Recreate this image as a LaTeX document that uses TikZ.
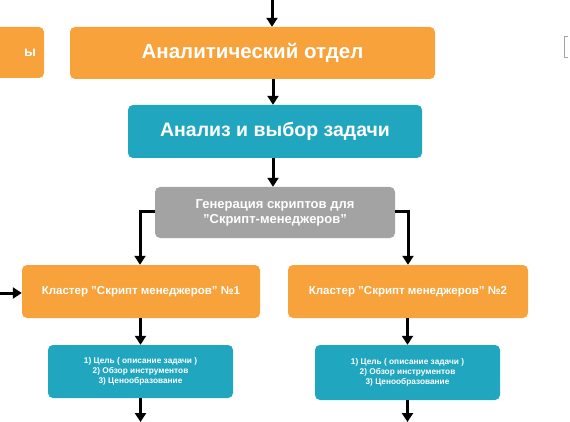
\documentclass[tikz,border=0pt]{standalone}
\usepackage{fontspec}
\setmainfont{Liberation Sans}
\usetikzlibrary{arrows.meta}
\definecolor{orng}{HTML}{F7A23A}
\definecolor{teal2}{HTML}{20A6BE}
\definecolor{gry}{HTML}{A3A3A3}
\tikzset{
  box/.style={rounded corners=5pt, text=white, font=\bfseries, align=center, inner sep=0pt},
  obox/.style={box, fill=orng},
  tbox/.style={box, fill=teal2},
  gbox/.style={box, fill=gry},
  arr/.style={line width=3pt, -{Triangle[width=11pt,length=9pt]}},
}
\begin{document}
\begin{tikzpicture}[x=1pt,y=-1pt]
\useasboundingbox (0,0) rectangle (570,422);
\fill[white] (0,0) rectangle (570,422);
% left partial box
\node[obox, minimum width=80pt, minimum height=51pt, font=\bfseries\fontsize{14}{16}\selectfont] (left) at (4,52.5) {\hspace*{52pt}ы};
% main boxes
\node[obox, minimum width=365pt, minimum height=52pt, font=\bfseries\fontsize{20.5}{24}\selectfont] (anal) at (252.5,53) {Аналитический отдел};
\node[tbox, minimum width=294pt, minimum height=53pt, font=\bfseries\fontsize{19.5}{23}\selectfont] (task) at (275,131.5) {Анализ и выбор задачи};
\node[gbox, minimum width=240pt, minimum height=51pt, font=\bfseries\fontsize{13}{15}\selectfont] (gen) at (275,212.5) {Генерация скриптов для\\"Скрипт-менеджеров"};
\node[obox, minimum width=238pt, minimum height=53pt, font=\bfseries\fontsize{11.5}{13}\selectfont] (c1) at (141,291.5) {Кластер "Скрипт менеджеров" №1};
\node[obox, minimum width=240pt, minimum height=53pt, font=\bfseries\fontsize{11.5}{13}\selectfont] (c2) at (408,291.5) {Кластер "Скрипт менеджеров" №2};
\node[tbox, minimum width=185pt, minimum height=53pt, font=\bfseries\fontsize{8.3}{10}\selectfont] (d1) at (140.5,371.5) {1) Цель ( описание задачи )\\2) Обзор инструментов\\3) Ценообразование};
\node[tbox, minimum width=185pt, minimum height=55pt, font=\bfseries\fontsize{8.3}{10}\selectfont] (d2) at (407.5,372.5) {1) Цель ( описание задачи )\\2) Обзор инструментов\\3) Ценообразование};
% free ends
\coordinate (top) at (272,0);
\coordinate (lin) at (0,293);
\coordinate (b1) at (140.5,422);
\coordinate (b2) at (407.5,422);
% connectors
\draw[arr] (top) -- (anal.north -| top);
\draw[arr] (anal.south -| 273,0) -- (task.north -| 273,0);
\draw[arr] (task.south -| 273,0) -- (gen.north -| 273,0);
\draw[arr] (gen.west |- 0,212) -- (140,212) -- (c1.north -| 140,0);
\draw[arr] (gen.east |- 0,212) -- (408,212) -- (c2.north -| 408,0);
\draw[arr] (lin) -- (c1.west |- lin);
\draw[arr] (c1.south -| 140.5,0) -- (d1.north);
\draw[arr] (c2.south -| 407.5,0) -- (d2.north);
\draw[arr] (d1.south) -- (b1);
\draw[arr] (d2.south) -- (b2);
% small bracket at right
\draw[gry, line width=1pt] (568,37) -- (564.5,37) -- (564.5,58) -- (568,58);
\end{tikzpicture}
\end{document}
